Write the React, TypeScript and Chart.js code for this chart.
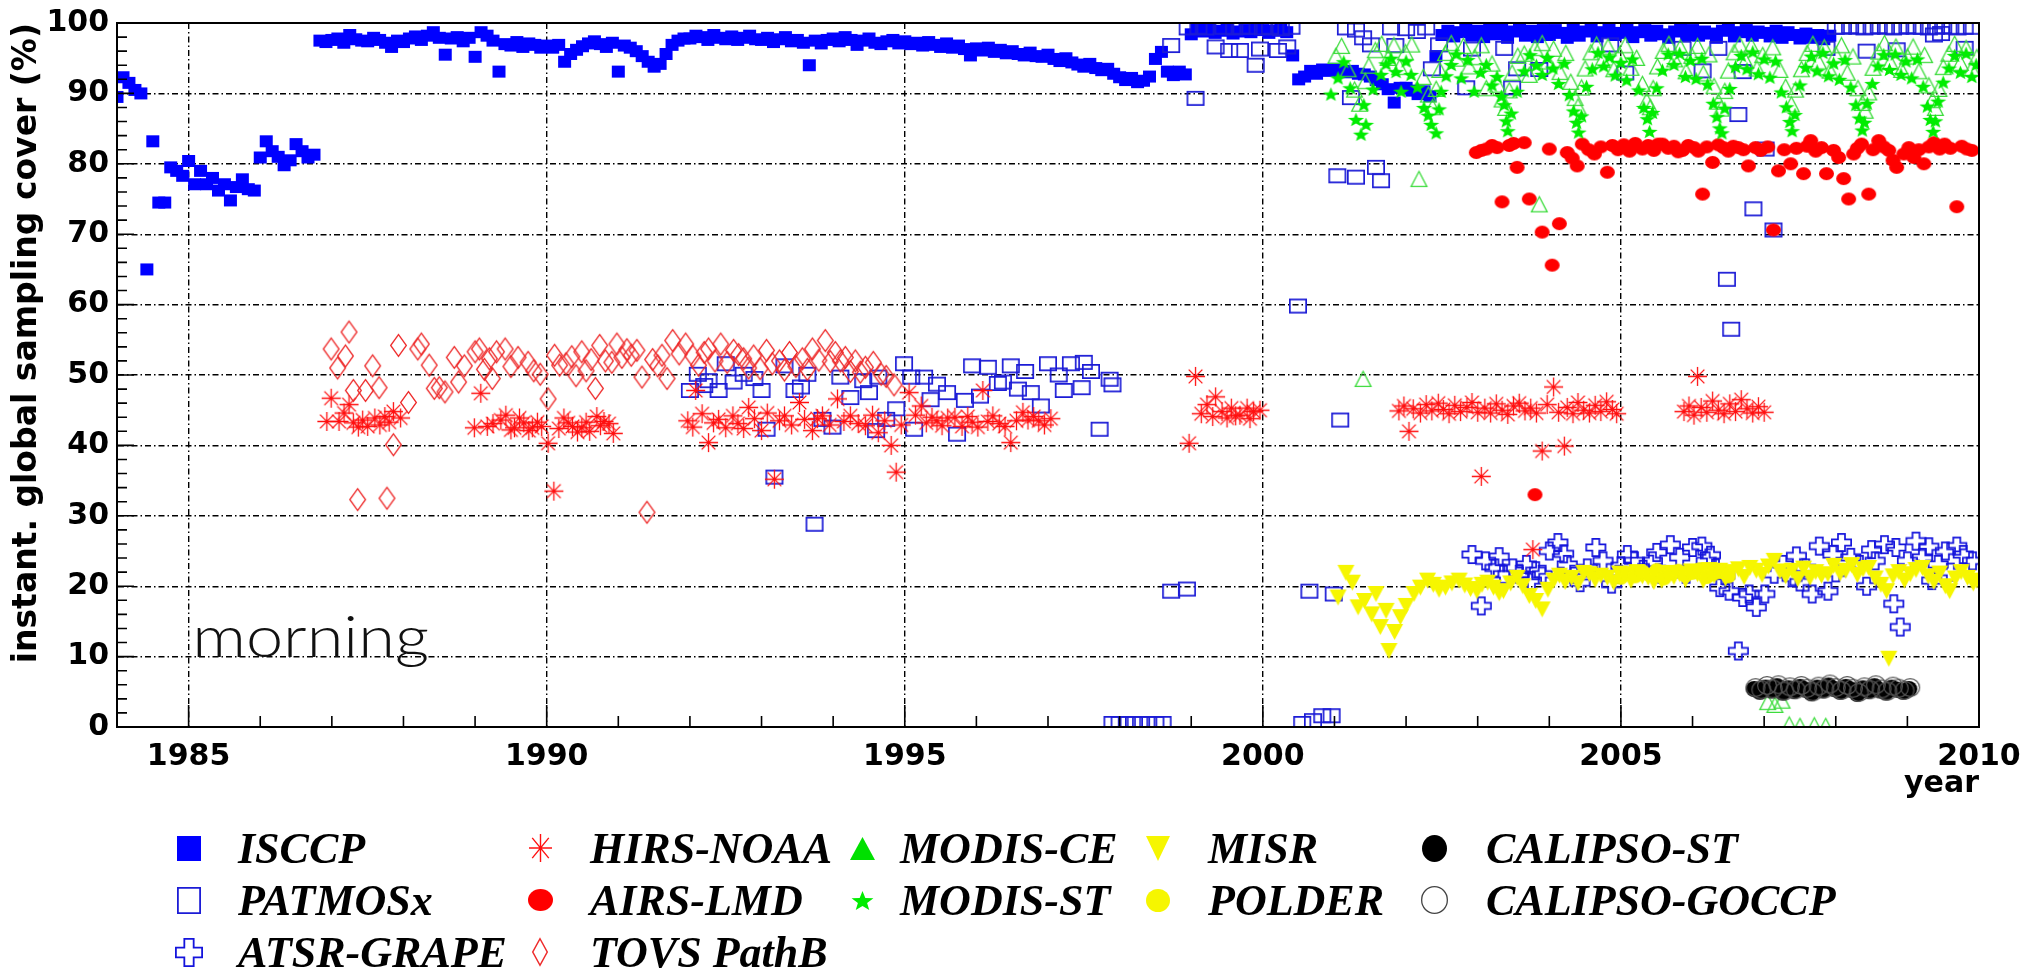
import { useEffect, useRef } from 'react';
import { Chart, registerables } from 'chart.js';

Chart.register(...registerables);

// ---------------- axis values ----------------
const X_MIN = 1984;
const X_MAX = 2010;
const X_TICKS = [1985, 1990, 1995, 2000, 2005, 2010];
const Y_MIN = 0;
const Y_MAX = 100;
const Y_STEP = 10;

// ---------------- series values ----------------
// ISCCP: monthly values, first month = January 1984
const ISCCP_START_YEAR = 1984;
const ISCCP_MONTHLY = [
  89.5, 92.3, 91.5, 90.5, 90, 65, 83.2, 74.5, 74.5, 79.5, 79, 78.3,
  80.4, 77.1, 79, 77.1, 78, 76.2, 77.1, 74.8, 76.7, 77.8, 76.4, 76.2,
  80.9, 83.2, 81.8, 81, 79.8, 80.5, 82.8, 81.8, 80.9, 81.3, 97.5, 97.3,
  97.6, 97.8, 97.2, 98.3, 97.7, 97.5, 97.4, 97.9, 97.6, 97.2, 96.6, 97.5,
  97.3, 97.8, 98.1, 97.6, 98.2, 98.7, 97.9, 95.5, 97.8, 98, 97.4, 97.9,
  95.2, 98.7, 98.2, 97.5, 93.1, 97, 96.8, 97.3, 96.6, 97.1, 96.9, 96.5,
  96.8, 96.5, 96.9, 94.5, 95.6, 96.2, 96.7, 97.1, 97.4, 97, 96.6, 97.2,
  93.1, 96.8, 96.5, 96, 95.3, 94.5, 93.8, 94.2, 95.6, 96.9, 97.5, 97.8,
  97.8, 98.2, 98, 97.6, 98.3, 97.9, 97.7, 98.1, 97.6, 97.9, 98.2, 97.7,
  97.6, 97.9, 97.3, 97.7, 98, 97.4, 97.6, 97.2, 94, 97.5, 97.1, 97.6,
  97.8, 97.4, 98, 97.6, 96.9, 97.5, 97.8, 97.2, 97, 97.4, 97.6, 97.1,
  97.4, 97, 97.2, 96.8, 97.3, 96.9, 96.6, 97.1, 96.5, 96.8, 96.3, 95.4,
  96.4, 96.1, 96.5, 95.9, 96.2, 95.7, 96, 95.6, 95.4, 95.8, 95.3, 95.2,
  95.5, 94.9, 94.6, 95, 94.4, 94.1, 93.8, 94.2, 93.6, 93.3, 93.5, 92.8,
  92.3, 91.9, 92.2, 91.6, 91.8, 92.4, 94.9, 95.9, 93.1, 92.6, 93.1, 92.7,
  98.4, 99.1, 98.8, 99.3, 98.6, 98.9, 99.2, 98.5, 98.8, 99, 98.7, 99.3,
  99, 98.6, 98.9, 99.2, 98.7, 95.4, 92, 92.4, 93.2, 92.8, 93.4, 93.2,
  93.5, 93.2, 93, 93.2, 92.8, 92.7, 92.4, 91.9, 91.3, 90.6, 88.7, 90.8,
  90.8, 90.4, 89.9, 90.3, 89.6, 95.3, 98.3, 98.9, 98.1, 98.7, 99.2, 98.2,
  98.9, 98.0, 99.1, 98.4, 99.2, 97.9, 98.8, 99.1, 98.2, 98.9, 98.0, 99.0,
  98.3, 99.0, 98.6, 97.9, 99.1, 98.2, 98.8, 99.2, 98.1, 98.7, 99.1, 98.3,
  98.6, 99.1, 98.0, 98.7, 99.0, 98.2, 98.9, 98.4, 97.9, 98.8, 99.1, 98.3,
  99.0, 98.2, 98.8, 98.5, 97.9, 98.9, 99.1, 98.1, 98.7, 99.0, 98.2, 98.8,
  98.6, 98.1, 98.9, 97.9, 98.7, 98.3, 97.8, 98.5, 97.9, 98.3, 97.7, 98.2,
];

// [year, cover %]
const PATMOSX = [
  [1992.0, 47.8], [1992.11, 50.1], [1992.2, 48.5], [1992.26, 49.2], [1992.4, 47.8], [1992.5, 51.6], [1992.61, 49.0],
  [1992.75, 50.1], [1992.9, 49.5], [1993.0, 47.8], [1993.07, 42.3], [1993.18, 35.5], [1993.32, 51.3], [1993.46, 47.8],
  [1993.55, 48.3], [1993.64, 50.1], [1993.74, 28.8], [1993.85, 43.7], [1993.99, 42.6], [1994.1, 49.7], [1994.24, 46.8],
  [1994.42, 49.2], [1994.5, 47.5], [1994.6, 42.1], [1994.63, 49.7], [1994.74, 43.7], [1994.88, 45.2], [1994.99, 51.6],
  [1995.09, 49.7], [1995.13, 42.3], [1995.27, 49.7], [1995.36, 46.5], [1995.45, 48.7], [1995.59, 47.5], [1995.73, 41.6],
  [1995.84, 46.4], [1995.94, 51.3], [1996.05, 47.0], [1996.16, 51.1], [1996.3, 48.8], [1996.37, 49.0], [1996.48, 51.3],
  [1996.58, 48.0], [1996.68, 50.5], [1996.76, 47.5], [1996.9, 45.6], [1997.0, 51.6], [1997.15, 50.0], [1997.22, 47.8],
  [1997.32, 51.6], [1997.47, 48.2], [1997.5, 51.8], [1997.6, 50.5], [1997.72, 42.3], [1997.86, 49.4], [1997.9, 48.6],
  [1997.9, 0.5], [1998.0, 0.5], [1998.1, 0.5], [1998.2, 0.5], [1998.3, 0.5], [1998.4, 0.5], [1998.5, 0.5], [1998.6, 0.5],
  [1998.72, 19.3], [1998.94, 19.6], [1998.72, 96.8], [1998.95, 99.3], [1999.06, 89.3], [1999.1, 99.4], [1999.2, 99.3],
  [1999.34, 96.6], [1999.45, 99.4], [1999.53, 96.1], [1999.6, 99.3], [1999.68, 96.1], [1999.7, 99.4], [1999.8, 99.4],
  [1999.9, 94.0], [1999.96, 96.3], [2000.0, 99.3], [2000.1, 99.4], [2000.21, 96.1], [2000.25, 99.2], [2000.34, 96.6],
  [2000.4, 99.4], [2000.49, 59.8], [2000.55, 0.5], [2000.65, 19.3], [2000.7, 0.9], [2000.83, 1.6], [2000.96, 1.6],
  [2000.99, 18.9], [2001.08, 43.6], [2001.04, 78.3], [2001.3, 78.1], [2001.58, 79.5], [2001.65, 77.6],
  [2001.23, 89.4], [2001.16, 99.3], [2001.3, 99.0], [2001.4, 97.9], [2001.51, 96.9], [2001.79, 99.3], [2001.85, 96.8],
  [2002.0, 99.2], [2002.15, 98.8], [2002.28, 99.3], [2002.36, 93.5], [2002.46, 96.9], [2002.84, 90.8], [2002.92, 96.3],
  [2003.37, 96.4], [2003.48, 90.8], [2003.55, 93.5], [2003.86, 93.4], [2004.85, 96.9], [2005.06, 92.9], [2005.86, 96.4],
  [2006.14, 93.2], [2006.36, 96.4], [2006.48, 63.6], [2006.54, 56.5], [2006.64, 87.0], [2006.7, 93.1], [2006.85, 73.6],
  [2007.02, 82.1], [2007.13, 70.6], [2007.87, 96.4], [2008.43, 96.0], [2008.85, 96.2], [2009.37, 98.3], [2009.47, 98.5],
  [2009.8, 96.4], [2008.0, 99.4], [2008.1, 99.4], [2008.2, 99.5], [2008.3, 99.4], [2008.4, 99.3], [2008.5, 99.4],
  [2008.6, 99.5], [2008.7, 99.4], [2008.8, 99.3], [2008.9, 99.4], [2009.0, 99.5], [2009.1, 99.4], [2009.2, 99.4],
  [2009.3, 99.3], [2009.4, 99.4], [2009.5, 99.5], [2009.6, 99.4], [2009.7, 99.3], [2009.8, 99.4], [2009.9, 99.4],
];

const ATSR_GRAPE = [
  [2002.92, 24.5], [2003.05, 17.2], [2003.11, 23.6], [2003.24, 22.6], [2003.3, 24.2], [2003.36, 21.7], [2003.49, 22.6],
  [2003.58, 21.7], [2003.68, 23.1], [2003.75, 20.8], [2003.81, 22.2], [2003.9, 21.7], [2004.0, 25.0], [2004.12, 26.2],
  [2004.2, 24.6], [2004.25, 23.1], [2004.34, 21.7], [2004.43, 20.5], [2004.53, 22.6], [2004.65, 25.5], [2004.75, 23.6],
  [2004.87, 20.3], [2004.97, 21.7], [2005.0, 22.9], [2005.09, 24.5], [2005.19, 23.6], [2005.31, 22.4], [2005.44, 23.6],
  [2005.5, 24.8], [2005.57, 21.7], [2005.69, 25.9], [2005.82, 24.1], [2005.91, 21.7], [2006.0, 25.5], [2006.13, 25.7],
  [2006.19, 23.6], [2006.25, 24.4], [2006.32, 22.6], [2006.38, 19.8], [2006.45, 21.5], [2006.51, 19.3], [2006.64, 10.8],
  [2006.7, 18.4], [2006.79, 18.9], [2006.89, 17.0], [2007.01, 18.9], [2007.14, 21.7], [2007.26, 23.1], [2007.39, 21.2],
  [2007.45, 24.3], [2007.5, 20.6], [2007.58, 22.6], [2007.67, 18.9], [2007.77, 25.7], [2007.89, 19.3], [2007.96, 24.5],
  [2008.0, 21.9], [2008.08, 26.2], [2008.21, 24.1], [2008.33, 23.1], [2008.43, 20.0], [2008.5, 25.2], [2008.55, 23.6],
  [2008.68, 25.9], [2008.81, 17.5], [2008.84, 25.5], [2008.9, 14.2], [2009.0, 23.6], [2009.12, 26.4], [2009.21, 24.1],
  [2009.3, 25.6], [2009.34, 20.8], [2009.43, 23.1], [2009.53, 25.0], [2009.6, 22.0], [2009.69, 25.7], [2009.78, 24.5],
  [2009.91, 23.6],
];

const HIRS_NOAA = [
  [1986.93, 43.4], [1986.99, 46.7], [1987.1, 43.4], [1987.17, 44.6], [1987.24, 45.8], [1987.3, 43.2], [1987.37, 42.6],
  [1987.43, 43.6], [1987.5, 42.7], [1987.6, 43.9], [1987.67, 42.9], [1987.74, 44.1], [1987.8, 43.3], [1987.86, 44.8],
  [1987.96, 43.9],
  [1988.99, 42.5], [1989.08, 47.4], [1989.17, 42.7], [1989.25, 43.1], [1989.36, 43.6], [1989.43, 44.3], [1989.5, 42.2],
  [1989.55, 42.5], [1989.62, 43.9], [1989.68, 43.2], [1989.75, 42.1], [1989.8, 42.5], [1989.87, 43.3], [1989.93, 42.7],
  [1990.02, 40.3], [1990.1, 33.5], [1990.17, 42.4], [1990.24, 43.9], [1990.3, 43.2], [1990.36, 42.7], [1990.43, 41.9],
  [1990.49, 42.5], [1990.55, 43.3], [1990.6, 42.0], [1990.7, 44.1], [1990.75, 42.8], [1990.8, 43.4], [1990.87, 43.1],
  [1990.93, 41.7],
  [1991.97, 43.5], [1992.04, 42.6], [1992.08, 47.8], [1992.17, 44.5], [1992.26, 40.4], [1992.33, 43.2], [1992.4, 43.7],
  [1992.5, 42.5], [1992.6, 44.2], [1992.67, 43.1], [1992.75, 42.4], [1992.82, 45.4], [1992.9, 43.8], [1993.0, 42.1],
  [1993.08, 44.6], [1993.18, 35.2], [1993.25, 43.5], [1993.32, 44.2], [1993.42, 42.9], [1993.53, 46.1], [1993.6, 43.7],
  [1993.71, 42.1], [1993.78, 43.8], [1993.85, 44.2], [1993.95, 42.9], [1994.06, 46.6], [1994.15, 43.4], [1994.24, 44.2],
  [1994.35, 43.1], [1994.45, 42.8], [1994.55, 44.3], [1994.63, 41.8], [1994.72, 43.5], [1994.81, 40.0], [1994.88, 36.2],
  [1994.95, 42.9], [1995.06, 47.5], [1995.15, 44.3], [1995.23, 45.6], [1995.3, 43.2], [1995.38, 44.0], [1995.45, 43.5],
  [1995.52, 42.8], [1995.6, 43.9], [1995.7, 44.0], [1995.8, 42.7], [1995.88, 44.1], [1995.94, 43.3], [1996.02, 42.6],
  [1996.09, 47.8], [1996.16, 43.4], [1996.23, 44.2], [1996.32, 43.1], [1996.4, 42.7], [1996.48, 40.4], [1996.56, 43.5],
  [1996.65, 44.7], [1996.72, 43.6], [1996.8, 44.1], [1996.87, 43.5], [1996.95, 42.9], [1997.04, 43.8],
  [1998.97, 40.3], [1999.06, 49.8], [1999.14, 44.5], [1999.22, 45.8], [1999.3, 44.1], [1999.34, 46.9], [1999.43, 44.8],
  [1999.5, 43.9], [1999.56, 45.3], [1999.62, 44.2], [1999.68, 44.3], [1999.78, 45.3], [1999.82, 43.8], [1999.87, 44.8],
  [1999.96, 45.0],
  [2001.9, 44.9], [2001.97, 45.6], [2002.04, 42.0], [2002.1, 45.2], [2002.2, 44.6], [2002.28, 45.8], [2002.36, 44.9],
  [2002.45, 46.0], [2002.52, 45.1], [2002.6, 44.5], [2002.68, 45.7], [2002.76, 44.8], [2002.85, 45.4], [2002.92, 46.1],
  [2003.0, 44.7], [2003.05, 35.6], [2003.1, 45.3], [2003.18, 44.6], [2003.26, 45.9], [2003.34, 45.0], [2003.42, 44.4],
  [2003.5, 45.6], [2003.58, 46.0], [2003.66, 44.9], [2003.74, 45.3], [2003.77, 25.2], [2003.82, 44.6], [2003.9, 39.2],
  [2003.97, 45.8], [2004.06, 48.3], [2004.13, 44.7], [2004.21, 39.9], [2004.25, 45.4], [2004.33, 44.5], [2004.4, 46.1],
  [2004.48, 45.0], [2004.56, 44.6], [2004.64, 45.7], [2004.72, 44.8], [2004.8, 46.2], [2004.88, 45.1], [2004.94, 44.5],
  [2005.88, 44.8], [2005.95, 45.6], [2006.02, 44.3], [2006.07, 49.8], [2006.12, 45.4], [2006.2, 44.7], [2006.28, 46.3],
  [2006.36, 45.0], [2006.44, 44.5], [2006.52, 45.9], [2006.6, 44.8], [2006.68, 46.5], [2006.76, 45.2], [2006.84, 44.6],
  [2006.92, 45.5], [2007.0, 44.7],
];

const AIRS_LMD = [
  [2002.98, 81.6], [2003.05, 81.9], [2003.12, 82.1], [2003.2, 82.6], [2003.27, 82.3], [2003.34, 74.6], [2003.44, 82.6],
  [2003.5, 82.9], [2003.55, 79.5], [2003.65, 83.0], [2003.72, 75.0], [2003.8, 33.0], [2003.9, 70.3], [2004.0, 82.1],
  [2004.04, 65.6], [2004.14, 71.5], [2004.25, 81.6], [2004.32, 80.8], [2004.39, 79.7], [2004.46, 82.8], [2004.55, 82.0],
  [2004.63, 81.4], [2004.72, 82.4], [2004.81, 78.8], [2004.88, 82.6], [2004.96, 82.0], [2005.04, 82.7], [2005.12, 81.8],
  [2005.2, 82.9], [2005.3, 82.1], [2005.38, 82.6], [2005.46, 81.9], [2005.52, 82.8], [2005.58, 82.8], [2005.66, 82.2],
  [2005.74, 82.5], [2005.8, 81.7], [2005.86, 81.9], [2005.94, 82.6], [2006.02, 82.3], [2006.08, 81.8], [2006.14, 75.7],
  [2006.2, 82.4], [2006.28, 80.2], [2006.36, 82.7], [2006.43, 82.3], [2006.5, 81.8], [2006.57, 82.5], [2006.64, 82.3],
  [2006.71, 82.0], [2006.78, 79.7], [2006.88, 82.3], [2006.95, 81.9], [2007.05, 82.4], [2007.13, 70.6], [2007.2, 79.0],
  [2007.28, 82.0], [2007.37, 80.0], [2007.45, 82.2], [2007.55, 78.6], [2007.6, 82.5], [2007.65, 83.3], [2007.72, 81.8],
  [2007.8, 82.3], [2007.87, 78.6], [2007.97, 81.9], [2008.04, 80.9], [2008.11, 77.9], [2008.18, 75.0], [2008.25, 81.4],
  [2008.3, 82.2], [2008.36, 82.8], [2008.46, 75.7], [2008.52, 82.0], [2008.6, 83.3], [2008.67, 82.4], [2008.74, 81.9],
  [2008.8, 80.5], [2008.85, 79.5], [2008.95, 81.4], [2009.02, 82.3], [2009.09, 80.9], [2009.16, 82.0], [2009.23, 80.0],
  [2009.3, 82.4], [2009.37, 83.0], [2009.45, 82.1], [2009.52, 82.8], [2009.6, 82.2], [2009.69, 73.9], [2009.76, 82.5],
  [2009.83, 82.1], [2009.9, 81.9],
];

const TOVS_PATHB = [
  [1986.99, 53.7], [1987.08, 51.0], [1987.19, 52.7], [1987.24, 56.1], [1987.3, 47.8], [1987.36, 32.3], [1987.47, 47.8],
  [1987.57, 51.3], [1987.66, 48.2], [1987.77, 32.5], [1987.86, 40.1], [1987.93, 54.2], [1988.07, 46.1], [1988.2, 53.7],
  [1988.25, 54.4], [1988.36, 51.4], [1988.43, 48.1], [1988.5, 48.2], [1988.58, 47.6], [1988.71, 52.5], [1988.77, 49.0],
  [1988.85, 51.3], [1989.0, 53.3], [1989.06, 53.7], [1989.13, 50.8], [1989.2, 52.3], [1989.24, 49.5], [1989.3, 53.3],
  [1989.42, 53.7], [1989.5, 51.2], [1989.6, 52.5], [1989.74, 51.8], [1989.82, 50.6], [1989.91, 50.1], [1990.02, 46.6],
  [1990.11, 52.8], [1990.18, 51.4], [1990.27, 51.6], [1990.35, 52.6], [1990.41, 49.9], [1990.49, 53.3], [1990.55, 50.6],
  [1990.62, 52.2], [1990.68, 48.1], [1990.74, 54.2], [1990.82, 52.0], [1990.91, 51.8], [1990.98, 54.4], [1991.05, 52.5],
  [1991.12, 53.6], [1991.18, 52.8], [1991.26, 53.5], [1991.33, 49.7], [1991.4, 30.5], [1991.48, 52.2], [1991.55, 51.3],
  [1991.61, 52.8], [1991.68, 49.5], [1991.76, 54.9], [1991.85, 53.0], [1991.94, 54.4], [1992.04, 52.7], [1992.12, 51.4],
  [1992.2, 53.2], [1992.26, 53.7], [1992.35, 52.0], [1992.43, 54.4], [1992.52, 51.8], [1992.61, 53.5], [1992.68, 52.9],
  [1992.75, 52.3], [1992.82, 51.0], [1992.89, 52.7], [1992.98, 50.9], [1993.07, 53.5], [1993.15, 51.6], [1993.25, 52.0],
  [1993.32, 50.7], [1993.39, 53.2], [1993.48, 51.2], [1993.57, 52.3], [1993.64, 50.8], [1993.71, 53.7], [1993.8, 52.1],
  [1993.89, 54.9], [1993.96, 51.9], [1994.03, 53.2], [1994.1, 52.0], [1994.17, 52.5], [1994.24, 50.5], [1994.31, 52.0],
  [1994.38, 50.4], [1994.45, 51.1], [1994.56, 51.8], [1994.67, 50.1], [1994.74, 49.8], [1994.85, 48.6],
];

const MODIS_CE = [
  [2001.02, 95.4], [2001.1, 96.8], [2001.19, 93.5], [2001.28, 90.6], [2001.35, 88.6], [2001.4, 49.5], [2001.43, 91.8],
  [2001.48, 94.0], [2001.57, 96.2], [2001.66, 97.1], [2001.75, 95.1], [2001.83, 96.9], [2001.91, 93.8],
  [2001.99, 95.9], [2002.08, 97.0], [2002.18, 77.9], [2002.24, 92.4], [2002.31, 89.9], [2002.37, 88.1], [2002.42, 90.7],
  [2002.47, 93.4], [2002.55, 95.8], [2002.63, 97.2], [2002.71, 95.0], [2002.8, 96.8], [2002.88, 93.9],
  [2002.96, 95.2], [2003.05, 96.9], [2003.12, 90.8], [2003.2, 94.3], [2003.28, 91.3], [2003.34, 89.2], [2003.39, 88.0],
  [2003.44, 90.5], [2003.48, 93.0], [2003.56, 95.4], [2003.65, 95.7], [2003.72, 92.7], [2003.8, 96.5], [2003.86, 74.3],
  [2003.9, 97.2], [2003.98, 94.6], [2004.06, 96.4], [2004.15, 93.1], [2004.23, 95.8], [2004.3, 91.7], [2004.36, 89.4],
  [2004.4, 88.2], [2004.45, 90.9], [2004.5, 93.6], [2004.58, 95.9], [2004.66, 97.0], [2004.74, 94.8], [2004.82, 96.7],
  [2004.9, 93.5], [2004.98, 95.6], [2005.06, 96.9], [2005.14, 93.7], [2005.22, 95.1], [2005.3, 91.4], [2005.36, 89.0],
  [2005.41, 88.1], [2005.45, 90.8], [2005.51, 93.9], [2005.59, 96.1], [2005.67, 97.1], [2005.75, 94.9], [2005.83, 96.6],
  [2005.91, 93.2], [2005.99, 95.4], [2006.07, 96.8], [2006.15, 92.9], [2006.23, 95.6], [2006.3, 91.1], [2006.36, 88.9],
  [2006.4, 87.9], [2006.45, 90.4], [2006.5, 93.3], [2006.58, 95.9], [2006.66, 97.0], [2006.74, 94.7], [2006.82, 96.8],
  [2006.9, 93.6], [2006.98, 95.5], [2007.05, 3.6], [2007.12, 96.6], [2007.15, 3.2], [2007.22, 93.4], [2007.25, 3.8],
  [2007.3, 91.0], [2007.35, 0.4], [2007.38, 88.5], [2007.44, 90.6], [2007.5, 0.2], [2007.52, 93.5], [2007.6, 95.8],
  [2007.68, 97.1], [2007.7, 0.3], [2007.76, 94.6], [2007.84, 96.6], [2007.86, 0.2], [2007.92, 93.3], [2008.0, 95.6],
  [2008.08, 96.9], [2008.16, 93.0], [2008.24, 95.3], [2008.31, 90.8], [2008.37, 88.7], [2008.41, 87.6], [2008.46, 90.2],
  [2008.52, 93.7], [2008.6, 96.0], [2008.68, 97.2], [2008.76, 94.5], [2008.84, 96.7], [2008.92, 93.4], [2009.0, 95.3],
  [2009.08, 96.7], [2009.16, 93.2], [2009.24, 95.5], [2009.3, 91.2], [2009.35, 89.1], [2009.39, 88.0], [2009.44, 90.7],
  [2009.5, 93.8], [2009.58, 95.7], [2009.66, 97.1], [2009.74, 94.4], [2009.82, 96.5], [2009.9, 93.6], [2009.97, 95.2],
];

const MODIS_ST = [
  [2000.95, 89.9], [2001.05, 92.2], [2001.13, 94.5], [2001.22, 90.8], [2001.3, 86.3], [2001.37, 84.2], [2001.41, 88.4],
  [2001.44, 85.6], [2001.54, 90.6], [2001.65, 92.7], [2001.72, 94.2], [2001.79, 95.0], [2001.86, 93.1], [2001.93, 90.3],
  [2002.0, 94.6], [2002.07, 92.7], [2002.16, 90.9], [2002.25, 88.0], [2002.31, 86.9], [2002.35, 85.6], [2002.42, 84.4],
  [2002.46, 87.8], [2002.49, 90.3], [2002.56, 92.5], [2002.63, 94.1], [2002.7, 95.6], [2002.77, 92.2], [2002.86, 94.8],
  [2002.95, 90.3], [2003.04, 93.0], [2003.12, 94.1], [2003.2, 91.2], [2003.27, 92.4], [2003.33, 89.6], [2003.37, 88.4],
  [2003.4, 86.1], [2003.42, 84.7], [2003.47, 87.2], [2003.55, 90.3], [2003.65, 93.2], [2003.73, 95.5], [2003.82, 94.0],
  [2003.9, 92.7], [2003.97, 95.1], [2004.05, 93.6], [2004.13, 91.4], [2004.21, 94.3], [2004.28, 89.8], [2004.34, 87.5],
  [2004.38, 85.9], [2004.41, 84.5], [2004.45, 86.8], [2004.52, 91.0], [2004.6, 93.5], [2004.68, 95.8], [2004.76, 93.9],
  [2004.84, 95.2], [2004.92, 92.6], [2005.0, 94.4], [2005.08, 91.9], [2005.16, 94.9], [2005.25, 90.5], [2005.32, 88.0],
  [2005.37, 86.4], [2005.4, 84.6], [2005.44, 87.3], [2005.5, 90.8], [2005.58, 93.3], [2005.66, 95.6], [2005.74, 94.1],
  [2005.82, 95.7], [2005.9, 92.4], [2005.97, 94.7], [2006.05, 92.1], [2006.13, 95.0], [2006.21, 91.3], [2006.29, 88.6],
  [2006.34, 86.7], [2006.38, 85.1], [2006.41, 84.4], [2006.45, 87.9], [2006.52, 90.7], [2006.6, 93.8], [2006.68, 95.4],
  [2006.76, 93.5], [2006.84, 95.9], [2006.92, 92.8], [2007.0, 94.9], [2007.08, 92.3], [2007.16, 94.6], [2007.24, 90.2],
  [2007.31, 88.1], [2007.36, 86.0], [2007.39, 84.7], [2007.43, 87.0], [2007.5, 91.2], [2007.58, 93.7], [2007.66, 95.3],
  [2007.74, 93.2], [2007.82, 95.8], [2007.9, 92.5], [2007.97, 94.3], [2008.05, 92.0], [2008.13, 94.8], [2008.21, 90.9],
  [2008.28, 88.4], [2008.33, 86.5], [2008.37, 84.8], [2008.4, 85.9], [2008.44, 88.6], [2008.51, 91.4], [2008.59, 93.9],
  [2008.67, 95.5], [2008.75, 93.4], [2008.83, 95.6], [2008.91, 92.7], [2008.98, 94.6], [2009.06, 92.2], [2009.14, 94.9],
  [2009.22, 91.0], [2009.28, 88.2], [2009.32, 86.3], [2009.36, 84.6], [2009.39, 86.1], [2009.43, 88.9], [2009.5, 91.6],
  [2009.58, 93.6], [2009.66, 95.4], [2009.74, 93.0], [2009.82, 95.7], [2009.9, 92.4], [2009.96, 94.1],
];

const MISR = [
  [2001.05, 18.4], [2001.16, 21.9], [2001.25, 20.5], [2001.33, 17.0], [2001.42, 17.9], [2001.52, 16.0], [2001.58, 18.9],
  [2001.64, 14.2], [2001.72, 16.5], [2001.76, 10.8], [2001.84, 13.5], [2001.92, 15.6], [2002.0, 17.2], [2002.11, 18.9],
  [2002.2, 19.8], [2002.3, 20.8], [2002.38, 20.2], [2002.46, 19.5], [2002.55, 19.8], [2002.64, 20.4], [2002.74, 20.8],
  [2002.82, 20.1], [2002.9, 19.6], [2002.99, 19.3], [2003.06, 20.2], [2003.14, 20.5], [2003.22, 19.8], [2003.3, 19.0],
  [2003.36, 19.3], [2003.46, 20.4], [2003.55, 21.2], [2003.63, 20.0], [2003.72, 18.6], [2003.81, 17.9], [2003.9, 16.7],
  [2003.98, 19.5], [2004.06, 20.8], [2004.14, 21.5], [2004.22, 20.6], [2004.31, 21.2], [2004.4, 20.4], [2004.48, 21.9],
  [2004.56, 21.7], [2004.64, 20.9], [2004.72, 21.5], [2004.81, 21.2], [2004.9, 20.5], [2004.98, 21.8], [2005.06, 21.7],
  [2005.14, 20.8], [2005.22, 22.0], [2005.3, 21.4], [2005.38, 21.2], [2005.46, 20.6], [2005.57, 20.8], [2005.65, 21.9],
  [2005.74, 21.3], [2005.82, 21.7], [2005.9, 20.9], [2005.98, 22.1], [2006.07, 21.7], [2006.15, 20.8], [2006.23, 22.3],
  [2006.3, 21.5], [2006.38, 22.2], [2006.46, 21.1], [2006.55, 22.0], [2006.64, 22.4], [2006.72, 21.3], [2006.8, 22.6],
  [2006.89, 22.2], [2006.97, 21.6], [2007.06, 22.8], [2007.14, 23.6], [2007.22, 22.1], [2007.3, 21.4], [2007.39, 22.2],
  [2007.47, 21.0], [2007.55, 22.5], [2007.64, 21.2], [2007.72, 22.0], [2007.8, 21.5], [2007.89, 21.7], [2007.97, 22.9],
  [2008.06, 21.8], [2008.14, 22.2], [2008.22, 23.0], [2008.3, 21.6], [2008.38, 22.4], [2008.46, 22.6], [2008.55, 21.1],
  [2008.63, 20.2], [2008.71, 19.3], [2008.74, 9.7], [2008.8, 21.4], [2008.88, 22.0], [2008.96, 20.8], [2009.04, 21.7],
  [2009.12, 22.3], [2009.21, 22.6], [2009.29, 21.4], [2009.37, 20.6], [2009.45, 21.8], [2009.53, 20.0], [2009.59, 19.3],
  [2009.67, 21.1], [2009.75, 22.0], [2009.84, 21.2], [2009.92, 20.4], [2009.97, 20.8],
];

const POLDER = [
  [2005.0, 21.2], [2005.1, 21.8], [2005.2, 21.4], [2005.3, 22.1], [2005.4, 21.6], [2005.5, 22.3], [2005.6, 21.1],
  [2005.7, 21.8], [2005.8, 22.2], [2005.9, 21.5], [2006.0, 21.9], [2006.1, 22.4], [2006.2, 21.3], [2006.3, 21.8],
  [2006.4, 22.0], [2006.5, 21.4],
];

const CALIPSO_ST = [
  [2006.86, 5.4], [2006.94, 5.0], [2007.02, 5.6], [2007.1, 5.2], [2007.18, 5.8], [2007.26, 4.9], [2007.34, 5.5],
  [2007.42, 5.1], [2007.5, 5.7], [2007.58, 5.3], [2007.66, 4.8], [2007.74, 5.6], [2007.82, 5.2], [2007.9, 5.9],
  [2007.98, 5.4], [2008.06, 5.0], [2008.14, 5.7], [2008.22, 5.3], [2008.3, 4.7], [2008.38, 5.5], [2008.46, 5.1],
  [2008.54, 5.8], [2008.62, 5.2], [2008.7, 4.9], [2008.78, 5.6], [2008.86, 5.3], [2008.94, 5.0], [2009.02, 5.4],
];

const CALIPSO_GOCCP = [
  [2006.88, 5.6], [2006.96, 5.3], [2007.04, 5.9], [2007.12, 5.4], [2007.2, 6.0], [2007.28, 5.1], [2007.36, 5.7],
  [2007.44, 5.3], [2007.52, 5.9], [2007.6, 5.5], [2007.68, 5.0], [2007.76, 5.8], [2007.84, 5.4], [2007.92, 6.1],
  [2008.0, 5.6], [2008.08, 5.2], [2008.16, 5.9], [2008.24, 5.5], [2008.32, 4.9], [2008.4, 5.7], [2008.48, 5.3],
  [2008.56, 6.0], [2008.64, 5.4], [2008.72, 5.1], [2008.8, 5.8], [2008.88, 5.5], [2008.96, 5.2], [2009.04, 5.6],
];

const SERIES_LABELS = [
  'ISCCP', 'PATMOSx', 'ATSR-GRAPE', 'HIRS-NOAA', 'AIRS-LMD', 'TOVS PathB',
  'MODIS-CE', 'MODIS-ST', 'MISR', 'POLDER', 'CALIPSO-ST', 'CALIPSO-GOCCP',
];

// ---------------- styles ----------------
const FONT_AXIS = "'DejaVu Sans', 'Liberation Sans', sans-serif";
const FONT_LEGEND = "'Liberation Serif', 'DejaVu Serif', serif";

type MarkerSpec = { kind: string; w: number; h: number; color: string; lw: number };

// plot marker, legend marker
const MARKERS: Record<string, [MarkerSpec, MarkerSpec]> = {
  'ISCCP': [{ kind: 'square', w: 13, h: 12, color: '#0000ff', lw: 1 }, { kind: 'square', w: 24, h: 25, color: '#0000ff', lw: 1 }],
  'PATMOSx': [{ kind: 'squareOpen', w: 18, h: 15, color: '#1c1cd6', lw: 1.7 }, { kind: 'squareOpen', w: 24, h: 27, color: '#1c1cd6', lw: 1.8 }],
  'ATSR-GRAPE': [{ kind: 'plusOpen', w: 21, h: 19, color: '#1414dc', lw: 1.7 }, { kind: 'plusOpen', w: 28, h: 29, color: '#1414dc', lw: 1.8 }],
  'HIRS-NOAA': [{ kind: 'asterisk', w: 19, h: 19, color: '#ff1010', lw: 1.3 }, { kind: 'asterisk', w: 23, h: 28, color: '#ff1010', lw: 1.4 }],
  'AIRS-LMD': [{ kind: 'circle', w: 15, h: 13, color: '#ff0000', lw: 1 }, { kind: 'circle', w: 25, h: 22, color: '#ff0000', lw: 1 }],
  'TOVS PathB': [{ kind: 'diamondOpen', w: 17, h: 23, color: '#ee2a2a', lw: 1.3 }, { kind: 'diamondOpen', w: 16, h: 28, color: '#ee2a2a', lw: 1.5 }],
  'MODIS-CE': [{ kind: 'triUpOpen', w: 17, h: 17, color: '#3cdc3c', lw: 1.3 }, { kind: 'triUp', w: 25, h: 23, color: '#00e000', lw: 1 }],
  'MODIS-ST': [{ kind: 'star5', w: 17, h: 15, color: '#00ec00', lw: 1 }, { kind: 'star5', w: 23, h: 21, color: '#00ec00', lw: 1 }],
  'MISR': [{ kind: 'triDown', w: 17, h: 16, color: '#f6f600', lw: 1 }, { kind: 'triDown', w: 24, h: 25, color: '#f6f600', lw: 1 }],
  'POLDER': [{ kind: 'circle', w: 15, h: 14, color: '#f6f600', lw: 1 }, { kind: 'circle', w: 24, h: 23, color: '#f6f600', lw: 1 }],
  'CALIPSO-ST': [{ kind: 'circle', w: 17, h: 16, color: '#000000', lw: 1 }, { kind: 'circle', w: 25, h: 27, color: '#000000', lw: 1 }],
  'CALIPSO-GOCCP': [{ kind: 'circleOpen', w: 20, h: 19, color: '#555555', lw: 1.2 }, { kind: 'circleOpen', w: 27, h: 28, color: '#444444', lw: 1.3 }],
};

// legend layout: columns (marker centre x, text start x), row baselines
const LEGEND_COLS = [[189, 238], [540, 590], [862, 900], [1158, 1208], [1434, 1486]];
const LEGEND_ROWS = [863, 915, 967];
const LEGEND_SLOTS = [[0, 0], [0, 1], [0, 2], [1, 0], [1, 1], [1, 2], [2, 0], [2, 1], [3, 0], [3, 1], [4, 0], [4, 1]];

function makeMarker(spec: MarkerSpec): HTMLCanvasElement {
  const { kind, w, h, color, lw } = spec;
  const pad = 2;
  const c = document.createElement('canvas');
  c.width = Math.ceil(w + pad * 2);
  c.height = Math.ceil(h + pad * 2);
  const g = c.getContext('2d') as CanvasRenderingContext2D;
  g.translate(c.width / 2, c.height / 2);
  g.fillStyle = color;
  g.strokeStyle = color;
  g.lineWidth = lw;
  const hw = w / 2;
  const hh = h / 2;
  const q = lw / 2;
  g.beginPath();
  switch (kind) {
    case 'square':
      g.rect(-hw, -hh, w, h); g.fill(); break;
    case 'squareOpen':
      g.rect(-hw + q, -hh + q, w - lw, h - lw); g.stroke(); break;
    case 'circle':
      g.ellipse(0, 0, hw, hh, 0, 0, Math.PI * 2); g.fill(); break;
    case 'circleOpen':
      g.ellipse(0, 0, hw - q, hh - q, 0, 0, Math.PI * 2); g.stroke(); break;
    case 'diamondOpen':
      g.moveTo(0, -hh + q); g.lineTo(hw - q, 0); g.lineTo(0, hh - q); g.lineTo(-hw + q, 0); g.closePath(); g.stroke(); break;
    case 'triUpOpen':
      g.moveTo(0, -hh + lw); g.lineTo(hw - q, hh - q); g.lineTo(-hw + q, hh - q); g.closePath(); g.stroke(); break;
    case 'triUp':
      g.moveTo(0, -hh); g.lineTo(hw, hh); g.lineTo(-hw, hh); g.closePath(); g.fill(); break;
    case 'triDown':
      g.moveTo(-hw, -hh); g.lineTo(hw, -hh); g.lineTo(0, hh); g.closePath(); g.fill(); break;
    case 'asterisk': {
      const d = 0.72;
      g.moveTo(0, -hh); g.lineTo(0, hh);
      g.moveTo(-hw, 0); g.lineTo(hw, 0);
      g.moveTo(-hw * d, -hh * d); g.lineTo(hw * d, hh * d);
      g.moveTo(hw * d, -hh * d); g.lineTo(-hw * d, hh * d);
      g.stroke(); break;
    }
    case 'plusOpen': {
      const a = w / 6;
      const b = h / 6;
      const x1 = hw - q;
      const y1 = hh - q;
      g.moveTo(-a, -y1); g.lineTo(a, -y1); g.lineTo(a, -b); g.lineTo(x1, -b); g.lineTo(x1, b); g.lineTo(a, b);
      g.lineTo(a, y1); g.lineTo(-a, y1); g.lineTo(-a, b); g.lineTo(-x1, b); g.lineTo(-x1, -b); g.lineTo(-a, -b);
      g.closePath(); g.stroke(); break;
    }
    case 'star5': {
      for (let i = 0; i < 10; i++) {
        const r = i % 2 === 0 ? 1 : 0.42;
        const ang = -Math.PI / 2 + (i * Math.PI) / 5;
        const px = Math.cos(ang) * hw * r;
        const py = Math.sin(ang) * hh * r + hh * 0.1;
        if (i === 0) g.moveTo(px, py); else g.lineTo(px, py);
      }
      g.closePath(); g.fill(); break;
    }
    default:
      break;
  }
  return c;
}

function pairsToPoints(arr: number[][]) {
  return arr.map(([x, y]) => ({ x, y }));
}

function monthlyToPoints(start: number, values: number[]) {
  return values.map((y, i) => ({ x: start + i / 12, y }));
}

const SERIES_DATA: Record<string, { x: number; y: number }[]> = {
  'ISCCP': monthlyToPoints(ISCCP_START_YEAR, ISCCP_MONTHLY),
  'PATMOSx': pairsToPoints(PATMOSX),
  'ATSR-GRAPE': pairsToPoints(ATSR_GRAPE),
  'HIRS-NOAA': pairsToPoints(HIRS_NOAA),
  'AIRS-LMD': pairsToPoints(AIRS_LMD),
  'TOVS PathB': pairsToPoints(TOVS_PATHB),
  'MODIS-CE': pairsToPoints(MODIS_CE),
  'MODIS-ST': pairsToPoints(MODIS_ST),
  'MISR': pairsToPoints(MISR),
  'POLDER': pairsToPoints(POLDER),
  'CALIPSO-ST': pairsToPoints(CALIPSO_ST),
  'CALIPSO-GOCCP': pairsToPoints(CALIPSO_GOCCP),
};

export default function App() {
  const canvasRef = useRef<HTMLCanvasElement | null>(null);

  useEffect(() => {
    document.body.style.margin = '0';
    const canvas = canvasRef.current;
    if (!canvas) return;

    const plotMarkers: Record<string, HTMLCanvasElement> = {};
    const legendMarkers: Record<string, HTMLCanvasElement> = {};
    SERIES_LABELS.forEach((label) => {
      plotMarkers[label] = makeMarker(MARKERS[label][0]);
      legendMarkers[label] = makeMarker(MARKERS[label][1]);
    });

    const datasets = SERIES_LABELS.map((label, i) => ({
      label,
      data: SERIES_DATA[label],
      pointStyle: plotMarkers[label],
      pointRadius: 6,
      showLine: false,
      clip: 0,
      order: 100 - i,
    }));

    const decorPlugin = {
      id: 'rootDecor',
      afterDatasetsDraw(chart: any) {
        const { ctx, chartArea: a, scales } = chart;
        const xs = scales.x;
        const ys = scales.y;
        ctx.save();
        ctx.strokeStyle = '#000';
        ctx.lineWidth = 1.6;
        ctx.beginPath();
        for (let v = Y_MIN; v <= Y_MAX; v += 2) {
          const y = ys.getPixelForValue(v);
          const len = v % Y_STEP === 0 ? 17 : 10;
          ctx.moveTo(a.left, y);
          ctx.lineTo(a.left + len, y);
        }
        for (let yr = X_MIN; yr <= X_MAX; yr += 1) {
          const x = xs.getPixelForValue(yr);
          const len = yr % 5 === 0 ? 22 : 11;
          ctx.moveTo(x, a.bottom);
          ctx.lineTo(x, a.bottom - len);
        }
        ctx.stroke();
        ctx.lineWidth = 2;
        ctx.strokeRect(a.left, a.top, a.right - a.left, a.bottom - a.top);
        // annotation text
        const tx = xs.getPixelForValue(1985.05);
        const ty = ys.getPixelForValue(9.9);
        ctx.translate(tx, ty);
        ctx.scale(1.15, 1);
        ctx.fillStyle = '#111';
        ctx.font = "300 58px Lato, 'Open Sans', sans-serif";
        ctx.textAlign = 'left';
        ctx.textBaseline = 'alphabetic';
        ctx.fillText('morning', 0, 0);
        ctx.restore();
      },
      afterDraw(chart: any) {
        const { ctx } = chart;
        ctx.save();
        ctx.font = `italic bold 44px ${FONT_LEGEND}`;
        ctx.fillStyle = '#000';
        ctx.textAlign = 'left';
        ctx.textBaseline = 'alphabetic';
        SERIES_LABELS.forEach((label, i) => {
          const [col, row] = LEGEND_SLOTS[i];
          const [mx, tx] = LEGEND_COLS[col];
          const base = LEGEND_ROWS[row];
          const m = legendMarkers[label];
          const cy = base - 15;
          ctx.drawImage(m, Math.round(mx - m.width / 2), Math.round(cy - m.height / 2));
          ctx.fillText(label, tx, base);
        });
        ctx.restore();
      },
    };

    const chart = new Chart(canvas, {
      type: 'scatter',
      data: { datasets } as any,
      options: {
        animation: false,
        responsive: true,
        maintainAspectRatio: false,
        devicePixelRatio: 1,
        events: [],
        layout: { padding: { left: 0, right: 65, top: 17, bottom: 0 } },
        plugins: {
          legend: { display: false },
          tooltip: { enabled: false },
        },
        scales: {
          x: {
            type: 'linear',
            min: X_MIN,
            max: X_MAX,
            afterBuildTicks: (scale: any) => {
              scale.ticks = X_TICKS.map((v) => ({ value: v }));
            },
            afterFit: (scale: any) => {
              scale.height = 244;
            },
            ticks: {
              autoSkip: false,
              maxRotation: 0,
              padding: 12,
              color: '#000',
              font: { family: FONT_AXIS, size: 30, weight: 'bold', lineHeight: 1.2 },
              callback: (v: any) => String(v),
            },
            grid: { color: '#000', lineWidth: 1.4, drawTicks: false },
            border: { display: true, color: '#000', width: 2, dash: [6, 3, 1.5, 3] },
            title: {
              display: true,
              text: 'year',
              align: 'end',
              color: '#000',
              font: { family: FONT_AXIS, size: 30, weight: 'bold', lineHeight: 1.2 },
              padding: { top: 0, bottom: 169 },
            },
          },
          y: {
            type: 'linear',
            min: Y_MIN,
            max: Y_MAX,
            afterFit: (scale: any) => {
              scale.width = 117;
            },
            ticks: {
              stepSize: Y_STEP,
              padding: 8,
              color: '#000',
              font: { family: FONT_AXIS, size: 30, weight: 'bold', lineHeight: 1 },
              callback: (v: any) => String(v),
            },
            grid: { color: '#000', lineWidth: 1.4, drawTicks: false },
            border: { display: true, color: '#000', width: 2, dash: [6, 3, 1.5, 3] },
            title: {
              display: true,
              text: 'instant. global sampling cover (%)',
              align: 'end',
              color: '#000',
              font: { family: FONT_AXIS, size: 33, weight: 'bold', lineHeight: 1.2 },
              padding: { top: 8, bottom: 0 },
            },
          },
        },
      } as any,
      plugins: [decorPlugin],
    });

    return () => chart.destroy();
  }, []);

  return (
    <div style={{ width: 2044, height: 971, position: 'relative' }}>
      <canvas ref={canvasRef} />
    </div>
  );
}
